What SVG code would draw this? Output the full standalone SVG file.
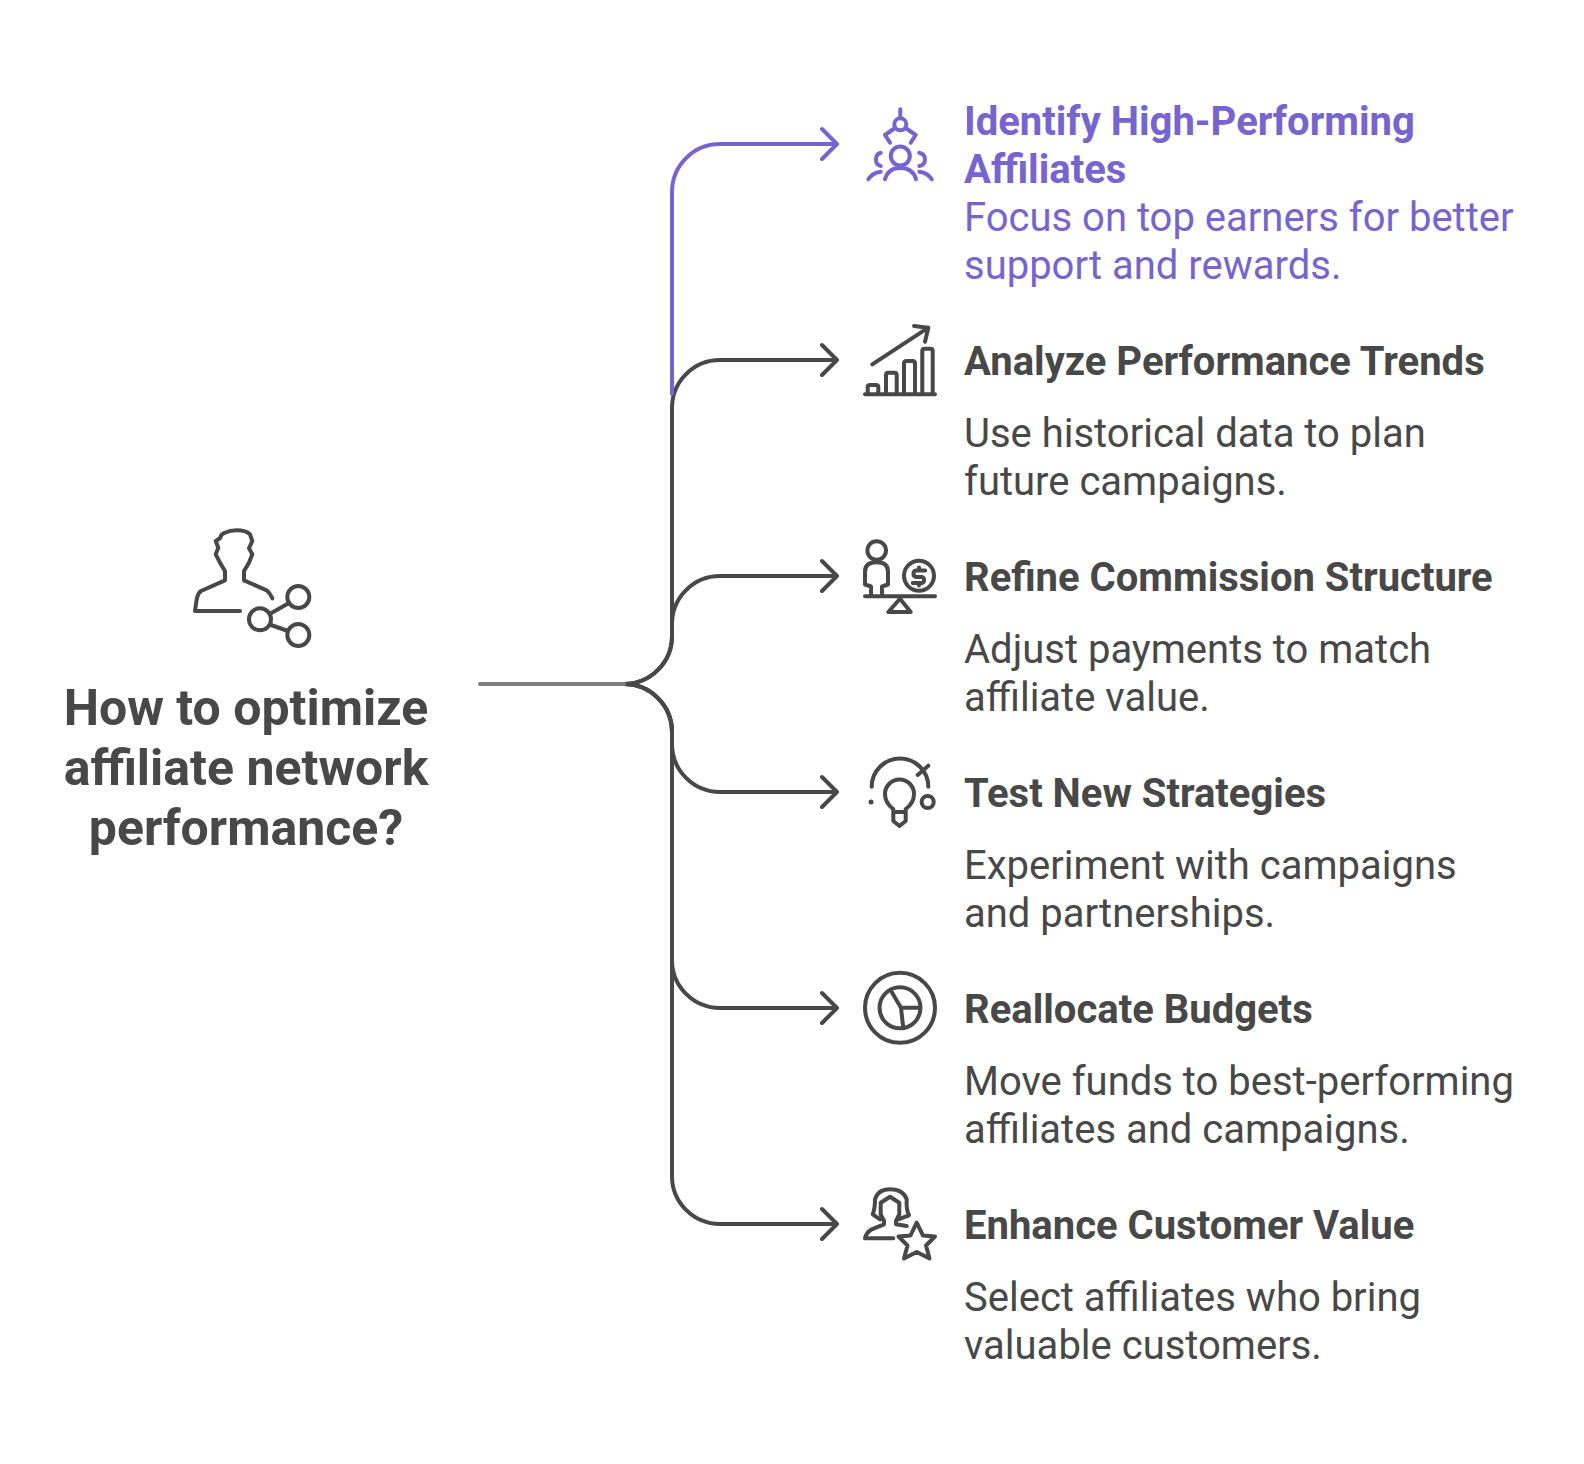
<svg xmlns="http://www.w3.org/2000/svg" width="1584" height="1464" viewBox="0 0 1584 1464">
<style>
text{font-family:Roboto,"Liberation Sans",sans-serif}
.h{font-size:40px;font-weight:700;fill:#484848}
.b{font-size:40px;font-weight:400;fill:#484848}
.p{fill:#7764d0}
.t{font-size:50px;font-weight:700;fill:#484848;text-anchor:middle}
.l{fill:none;stroke:#484848;stroke-width:4;stroke-linecap:round;stroke-linejoin:round}
.v{stroke:#7764d0}
.i{fill:none;stroke:#484848;stroke-width:4;stroke-linecap:round;stroke-linejoin:round}
</style>
<rect width="1584" height="1464" fill="#fff"/>
<g id="connectors">
<path class="l" d="M624 684A48 48 0 0 0 672 636V408A48 48 0 0 1 720 360H837M822 345L837 360L822 375"/>
<path class="l" d="M624 684A48 48 0 0 0 672 636V624A48 48 0 0 1 720 576H837M822 561L837 576L822 591"/>
<path class="l" d="M624 684A48 48 0 0 1 672 732V744A48 48 0 0 0 720 792H837M822 777L837 792L822 807"/>
<path class="l" d="M624 684A48 48 0 0 1 672 732V960A48 48 0 0 0 720 1008H837M822 993L837 1008L822 1023"/>
<path class="l" d="M624 684A48 48 0 0 1 672 732V1176A48 48 0 0 0 720 1224H837M822 1209L837 1224L822 1239"/>
<path class="l v" d="M672 394V192A48 48 0 0 1 720 144H837M822 129L837 144L822 159"/>
<path class="l" style="stroke:#808080" d="M480 684H624"/>
</g>
<g id="root">
<g transform="translate(0 1)">
<path class="i" d="M240 610H195L196.700 598.300Q198 592 201 590L225 579.300V570L220 561.700L215.700 553.300L218.300 546.700L215.700 540L220 537.300Q221 533 225 531.700Q230 529.300 236.700 529.300Q246 529.300 250 533.300L252.300 540L249 547.300L252.300 553.300L249 561.700L244 570V579.300L266.700 589.300Q270 592 272.300 597.300"/>
<circle class="i" cx="260" cy="618.300" r="11"/><circle class="i" cx="298.300" cy="596" r="11"/><circle class="i" cx="298.300" cy="634" r="11"/>
<path class="i" d="M271 612.300L287.700 602.700M271 624L288 630"/>
</g>
<text class="t" x="246" y="725">How to optimize</text>
<text class="t" x="246" y="785">affiliate network</text>
<text class="t" x="246" y="845">performance?</text>
</g>
<g id="node-1">
<g class="i" style="stroke:#7764d0" transform="translate(0 1)">
<circle cx="900.300" cy="123.300" r="6"/><circle cx="900.300" cy="155" r="9.500"/>
<path d="M900.300 108.300V116.700M895 127L885 134L890 141.700M905.600 127L915.700 134L910.700 141.700M885 178.300Q888 167 900.300 167Q913 167 916 178.300M880.700 151.700Q876 153 876 158.300Q876 164 880.700 165M919.300 151.700Q925 153 925 158.300Q925 164 919.300 165M868.300 178.300Q872 172 880.700 170.700M931.700 178.300Q928 172 919.300 170.700"/>
</g>
<text class="h p" x="964" y="134.500">Identify High-Performing</text>
<text class="h p" x="964" y="182.500">Affiliates</text>
<text class="b p" x="964" y="230.500">Focus on top earners for better</text>
<text class="b p" x="964" y="278.500">support and rewards.</text>
</g>
<g id="node-2">
<path class="i" transform="translate(0 1)" d="M865 393.300H935M867.700 393.300V386Q867.700 384 870 384H876Q878.300 384 878.300 386V393.300M886 393.300V374Q886 371.700 888.300 371.700H894.400Q896.700 371.700 896.700 374V393.300M904 393.300V362.500Q904 360 906.500 360H912.500Q915 360 915 362.500V393.300M922.300 393.300V350Q922.300 347.700 924.600 347.700H930.400Q932.700 347.700 932.700 350V393.300M872.300 363.300L928.300 326.700M914 325L928.300 326.700L925 340.700"/>
<text class="h" x="964" y="374.500">Analyze Performance Trends</text>
<text class="b" x="964" y="446.500">Use historical data to plan</text>
<text class="b" x="964" y="494.500">future campaigns.</text>
</g>
<g id="node-3">
<g transform="translate(0 1.500)">
<circle class="i" cx="876.700" cy="549" r="9.300"/><circle class="i" cx="919" cy="574.300" r="15"/>
<path class="i" d="M871 594.500V585L865 583V570Q865 560.700 876.700 560.700Q888 560.700 888 570V583L882 585V594.500M865 594.800H935M900 597.200L888.300 610.500H910.700ZM925.200 569H916.200A3.300 3.300 0 0 0 916.200 575.500H922.200A3.300 3.300 0 0 1 922.200 581.500H912.700M919 566V569M919 581.500V584"/>
</g>
<text class="h" x="964" y="590.500">Refine Commission Structure</text>
<text class="b" x="964" y="662.500">Adjust payments to match</text>
<text class="b" x="964" y="710.500">affiliate value.</text>
</g>
<g id="node-4">
<circle class="i" cx="927.700" cy="802" r="6"/><circle cx="871" cy="802" r="2.500" fill="#484848"/>
<path class="i" d="M871.700 786.700A28.300 28.300 0 0 1 928.300 786.700M917.700 775L928.300 765.700M893.300 812V809Q885 803 885 794A14.500 14.500 0 0 1 914 794Q914 803 905.700 809V812V821L899.500 826L893.300 821ZM893.300 812H905.700"/>
<text class="h" x="964" y="806.500">Test New Strategies</text>
<text class="b" x="964" y="878.500">Experiment with campaigns</text>
<text class="b" x="964" y="926.500">and partnerships.</text>
</g>
<g id="node-5">
<circle class="i" cx="900" cy="1007.800" r="35"/><circle class="i" cx="900" cy="1007.800" r="20.500"/>
<path class="i" d="M891.700 992L901 1007.800L903.300 1028.300M901 1007.800H920"/>
<text class="h" x="964" y="1022.500">Reallocate Budgets</text>
<text class="b" x="964" y="1094.500">Move funds to best-performing</text>
<text class="b" x="964" y="1142.500">affiliates and campaigns.</text>
</g>
<g id="node-6">
<path class="i" d="M880 1219.300L872.700 1214.300Q875 1209 875 1199.300Q878 1189.300 890 1189.300Q903 1189.300 906.700 1199.300Q906 1209 909 1215.300L898.300 1219.300M880.700 1202.700L890 1196.700L899.300 1202.700V1214.300L896 1221V1224.300L906.700 1226M880.700 1202.700V1214.300L884 1221V1224.300L871.700 1229.300Q866 1233 865 1238.300H893.300M916.700 1222.700L923 1235.500L935 1236.500L926 1245.500L929.500 1258.500L916.700 1252L904 1258.500L907.500 1245.500L898.500 1236.500L910.500 1235.500Z"/>
<text class="h" x="964" y="1238.500">Enhance Customer Value</text>
<text class="b" x="964" y="1310.500">Select affiliates who bring</text>
<text class="b" x="964" y="1358.500">valuable customers.</text>
</g>
</svg>
